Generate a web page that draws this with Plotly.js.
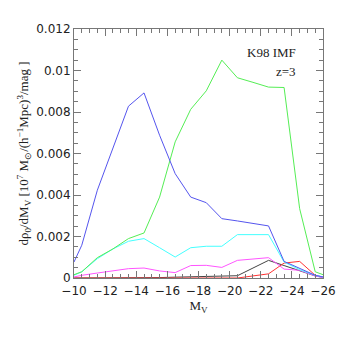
<!DOCTYPE html>
<html>
<head>
<meta charset="utf-8">
<script src="https://cdn.plot.ly/plotly-3.0.1.min.js"></script>
<style>
  html, body { margin: 0; padding: 0; background: #fff; }
  #myPlot { width: 341px; height: 341px; }
</style>
</head>
<body>
<div id="myPlot"></div>
<script>
// magnitude bins
var mv = [-10, -10.5, -11.5, -12.5, -13.5, -14.5, -15.5, -16.5, -17.5, -18.5,
          -19.5, -20.5, -21.5, -22.5, -23.5, -24.5, -25.5, -26];

var blue    = [0.00077, 0.00158, 0.00423, 0.00624, 0.00828, 0.00892, 0.00688, 0.00503, 0.0039, 0.00363,
               0.00286, 0.00275, 0.00262, 0.00251, 0.0008, 0.00045, 0.00013, 0.00005];
var green   = [0.00016, 0.0003, 0.00098, 0.0014, 0.0019, 0.00217, 0.0039, 0.00656, 0.00813, 0.00902,
               0.0105, 0.00965, 0.00943, 0.0092, 0.00918, 0.00334, 0.0003, 0.00016];
var cyan    = [0.00013, 0.0003, 0.00093, 0.0014, 0.00177, 0.0019, 0.00146, 0.00101, 0.00146, 0.00153,
               0.00153, 0.00209, 0.00209, 0.00209, 0.00077, 0.0004, 0.00013, 0.00005];
var magenta = [0.00005, 0.00013, 0.00024, 0.00034, 0.00045, 0.00048, 0.00034, 0.00026, 0.0006, 0.00061,
               0.00051, 0.00085, 0.00092, 0.00098, 0.00043, 0.00037, 0.0001, 0.00002];
var black   = [0, 0, 0, 0, 0, 0, 0.00002, 0.00004, 0.00006, 0.00007,
               0.00008, 0.00011, 0.00048, 0.00085, 0.0006, 0.00034, 0.0001, 0.00003];
var red     = [0, 0, 0, 0, 0, 0, 0, 0, 0, 0,
               0, 0, 0.0001, 0.0002, 0.00072, 0.0008, 0.00013, 0.00004];

var series = [
    {y: black, color: '#444444'},
    {y: red, color: '#ff3333'},
    {y: magenta, color: '#ff55ff'},
    {y: cyan, color: '#44ffff'},
    {y: green, color: '#55ee55'},
    {y: blue, color: '#5555ee'}
];

var traces = [];
for (var i = 0; i < series.length; i++) {
    traces.push({
        x: mv,
        y: series[i].y,
        mode: 'lines',
        type: 'scatter',
        line: {color: series[i].color, width: 1},
        hoverinfo: 'skip',
        showlegend: false
    });
}

var axisBase = {
    showgrid: false,
    zeroline: false,
    showline: true,
    linecolor: '#777',
    linewidth: 1,
    mirror: 'allticks',
    ticks: 'inside',
    ticklen: 7,
    tickcolor: '#777',
    tickfont: {family: 'DejaVu Sans', size: 12, color: '#222'}
};

var xaxis = Object.assign({}, axisBase, {
    range: [-10, -26],
    autorange: false,
    tickvals: [-10, -12, -14, -16, -18, -20, -22, -24, -26],
    ticktext: ['\u221210', '\u221212', '\u221214', '\u221216', '\u221218', '\u221220', '\u221222', '\u221224', '\u221226'],
    ticklabelstandoff: 2,
    minor: {dtick: 0.5, ticks: 'inside', ticklen: 4, tickcolor: '#777', showgrid: false},
    title: {text: 'M<sub>V</sub>', font: {family: 'Liberation Serif', size: 13, color: '#222'}, standoff: 3}
});

var yaxis = Object.assign({}, axisBase, {
    range: [0, 0.012],
    autorange: false,
    tickvals: [0, 0.002, 0.004, 0.006, 0.008, 0.01, 0.012],
    ticktext: ['0', '0.002', '0.004', '0.006', '0.008', '0.01', '0.012'],
    minor: {dtick: 0.0005, ticks: 'inside', ticklen: 4, tickcolor: '#777', showgrid: false},
    title: {
        text: 'd\u03c1<sub>0</sub>/dM<sub>V</sub> [10<sup>7</sup> M<sub>\u2299</sub>/(h<sup>\u22121</sup>Mpc)<sup>3</sup>/mag ]',
        font: {family: 'Liberation Serif', size: 13, color: '#222'},
        standoff: 4
    }
});

var layout = {
    width: 341,
    height: 341,
    margin: {l: 74, r: 18, t: 29, b: 63},
    paper_bgcolor: '#fff',
    plot_bgcolor: '#fff',
    xaxis: xaxis,
    yaxis: yaxis,
    annotations: [
        {x: 0.9, y: 0.904, xref: 'paper', yref: 'paper', xanchor: 'right', yanchor: 'middle',
         text: 'K98 IMF', showarrow: false, font: {family: 'Liberation Serif', size: 13, color: '#222'}},
        {x: 0.9, y: 0.831, xref: 'paper', yref: 'paper', xanchor: 'right', yanchor: 'middle',
         text: 'z=3', showarrow: false, font: {family: 'Liberation Serif', size: 13, color: '#222'}}
    ]
};

Plotly.newPlot('myPlot', traces, layout, {staticPlot: true, displayModeBar: false});
</script>
</body>
</html>
